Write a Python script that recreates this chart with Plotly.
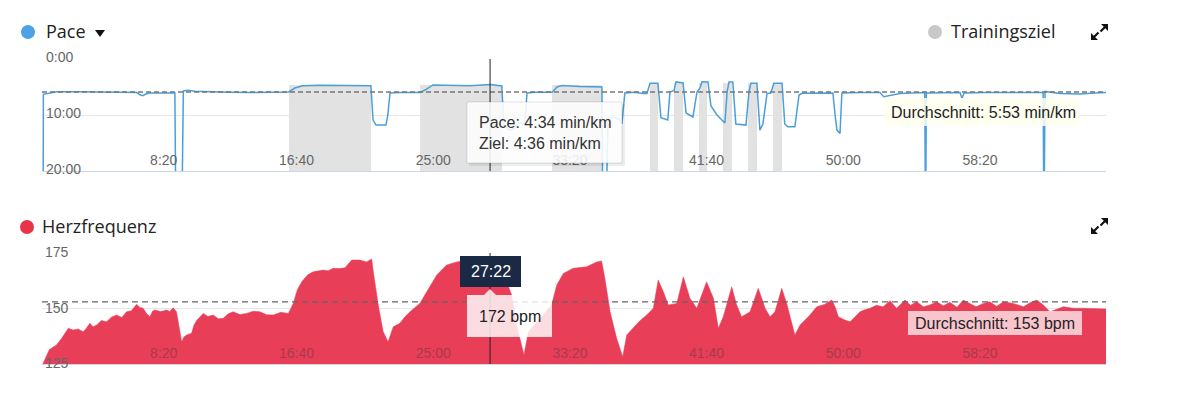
import plotly.graph_objects as go

# ---------------- data ----------------
tick_seconds = [500, 1000, 1500, 2000, 2500, 3000, 3500]
tick_labels = ["8:20", "16:40", "25:00", "33:20", "41:40", "50:00", "58:20"]
x_range_s = [3, 3895]

pace_ticks = [0, 10, 20]
pace_tick_labels = ["0:00", "10:00", "20:00"]
hr_ticks = [125, 150, 175]
hr_tick_labels = ["125", "150", "175"]

pace_time = [3, 7, 8, 32, 57, 142, 215, 288, 350, 361, 372, 383, 398, 453, 489,
             493, 514, 520, 537, 562, 617, 690, 764, 837, 906, 928, 957, 1019, 1129, 1206,
             1214, 1225, 1261, 1268, 1276, 1312, 1385, 1404, 1433, 1495, 1568, 1642, 1685,
             1692, 1714, 1733, 1751, 1769, 1777, 1806, 1869, 1887, 1905, 1971, 2044, 2051,
             2055, 2066, 2073, 2099, 2117, 2124, 2135, 2172, 2201, 2216, 2227, 2256,
             2267, 2292, 2300, 2315, 2322, 2348, 2359, 2384, 2399, 2410, 2417, 2439,
             2450, 2472, 2490, 2501, 2509, 2516, 2530, 2541, 2578, 2589, 2596, 2618,
             2629, 2640, 2655, 2669, 2680, 2710, 2720, 2731, 2757, 2772, 2783, 2849,
             2896, 2904, 2911, 2922, 2929, 2995, 3068, 3082, 3104, 3141, 3232, 3235,
             3238, 3325, 3361, 3368, 3376, 3452, 3544, 3665, 3668, 3672, 3727, 3800,
             3855, 3895]
pace_min = [30, 30, 6.3, 6.1, 5.84, 5.84, 5.89, 5.95, 6.0, 6.4, 6.55, 6.25, 6.07, 6.07, 6.07,
            30, 30, 5.71, 5.6, 5.77, 5.89, 5.95, 6.0, 5.95, 5.89, 5.18, 4.77, 4.7, 4.73, 4.77,
            10.9, 11.8, 11.8, 10.0, 6.07, 6.0, 6.0, 5.54, 4.64, 4.7, 4.77, 4.567, 4.82,
            11.8, 12.7, 12.3, 11.25, 11.8, 6.07, 5.95, 5.95, 5.0, 4.73, 4.9, 5.0, 5.0,
            30, 30, 10.5, 10.4, 10.9, 11.6, 6.07, 5.95, 6.16, 6.16, 4.34, 4.34,
            10.5, 10.9, 5.89, 5.63, 4.1, 4.29, 9.64, 10.36, 5.89, 5.18, 4.05, 4.1,
            8.4, 10.0, 10.9, 11.4, 5.89, 4.1, 4.1, 11.6, 11.8, 5.89, 4.34, 4.34,
            12.7, 11.6, 6.16, 6.07, 4.34, 4.34, 11.6, 12.1, 12.1, 6.43, 6.13, 6.02,
            6.07, 10.0, 12.7, 13.3, 6.07, 6.0, 6.0, 6.73, 6.52, 6.16, 6.0, 30,
            6.07, 5.98, 6.0, 7.0, 6.07, 5.98, 5.95, 6.0, 30, 5.8, 6.16, 6.25,
            6.07, 6.0]

zone_start = [906, 1385, 1869, 2227, 2316, 2406, 2495, 2586, 2677]
zone_end = [1206, 1685, 2051, 2256, 2348, 2436, 2527, 2618, 2710]
zone_pace = [4.6, 4.6, 4.6, 4.33, 4.33, 4.33, 4.33, 4.33, 4.33]

hr_time = [6, 30, 56, 75, 99, 117, 135, 154, 166, 178, 190, 203, 220, 239, 258, 276, 295, 312,
           330, 349, 361, 373, 386, 398, 407, 416, 437, 459, 470, 483, 495,
           514, 522, 532, 550, 559, 570, 581, 593, 610, 629, 648, 666, 684, 702, 727, 751, 776,
           800, 825, 849, 877, 904, 922, 937, 953, 975, 995,
           1032, 1050, 1068, 1090, 1111, 1136, 1166, 1190, 1209, 1215, 1233, 1251, 1269, 1288,
           1312, 1330, 1349,
           1385, 1410, 1447, 1483, 1520, 1556, 1642, 1678, 1721, 1739, 1766, 1782, 1824,
           1867, 1886, 1910, 1946, 1970, 1995, 2032, 2050, 2062, 2081, 2105, 2127, 2142, 2166,
           2190, 2215, 2239, 2257, 2276, 2294, 2325, 2349, 2373, 2398, 2434, 2459, 2477, 2495,
           2526, 2544, 2562, 2593, 2623, 2648, 2666, 2684, 2709, 2727, 2757, 2776, 2812,
           2837, 2865, 2892, 2905, 2916, 2940, 2959, 2975, 2995, 3012, 3032, 3055, 3080, 3105,
           3129, 3145, 3160, 3180,
           3203, 3227, 3251, 3276, 3300, 3324, 3350, 3373, 3397, 3420, 3446, 3470, 3495,
           3520, 3556, 3593, 3620, 3642, 3666, 3690, 3739, 3776, 3812, 3837, 3895]
hr_bpm = [125, 131.5, 133.6, 136.6, 141.1, 140.3, 140.8, 139.5, 141.2, 143.3, 141.8, 142.6,
          144.6, 144.0, 146.2, 147.1, 146.0, 148.5,
          149.0, 151.9, 150.5, 150.1, 147.6, 146.3, 148.8, 149.3, 148.6, 149.3, 148.7, 150.3, 148.5,
          135.0, 137.2, 138.1, 138.8, 142.6, 144.8, 146.3, 147.8, 146.4, 147.1, 145.4, 145.6,
          147.6, 148.5, 147.3, 147.8, 148.8,
          148.5, 147.2, 147.1, 148.3, 147.8, 152.3, 158.5, 162.0, 165.2, 166.5,
          167.3, 167.0, 168.1, 168.0, 168.3, 171.8, 171.8, 171.0, 172.3, 166.5, 151.6, 139.5,
          135.0, 141.8, 143.3, 146.2, 148.5,
          152.3, 157.5, 165.1, 169.6, 171.0, 171.8, 172.0, 169.6, 156.1, 142.6, 129.1, 139.5, 145.6,
          151.6, 160.6, 165.8, 168.1, 168.5, 168.8, 171.0, 171.4, 163.6, 148.5, 136.6, 128.3, 138.1,
          141.1, 144.5, 147.1, 150.1, 162.8, 157.5, 151.6, 152.3, 164.3, 154.6, 150.1, 162.0, 154.6,
          141.1, 146.3, 159.8, 151.6, 146.3, 148.5, 159.1, 150.1, 146.3, 148.5, 159.1, 152.3,
          138.1, 142.6, 147.1,
          150.8, 151.8, 153.8, 150.5, 146.3, 144.8, 144.0, 146.0, 148.5, 149.4, 150.1, 151.5,
          150.8, 153.5,
          150.1, 152.0, 153.8, 151.5,
          153.0, 150.8, 151.6, 153.0, 151.2, 152.8, 150.6, 153.8, 152.3, 150.8, 152.3, 153.0,
          151.0,
          153.0, 152.3, 150.8, 152.8, 153.8, 151.6, 148.5, 150.8, 150.1, 150.1, 150.1, 149.8]

avg_pace = 5 + 53 / 60
avg_hr = 153
cursor_t = 1642          # 27:22
cursor_pace = 4.567
cursor_goal = 4.6
cursor_hr = 172

# ---------------- helpers ----------------
W, H = 1200, 402


def px(x):
    return x / W


def py(y):
    return 1 - y / H


def mmss(v):
    m = int(v)
    s = int(round((v - m) * 60))
    return f"{m}:{s:02d}"


def sec_label(t):
    return f"{t // 60}:{t % 60:02d}"


XD = [px(42), px(1106)]
TXT = "Liberation Sans, Arial, sans-serif"
TITLE = "Open Sans, Noto Sans, sans-serif"
TICKFONT = dict(family=TXT, size=14, color="#666666")

BLUE = "#4a9fdb"
RED = "rgb(233,62,88)"

fig = go.Figure()

# Training target zones (bars from target pace down to the axis bottom)
fig.add_trace(go.Bar(
    x=[(a + b) / 2 for a, b in zip(zone_start, zone_end)],
    width=[b - a for a, b in zip(zone_start, zone_end)],
    base=zone_pace,
    y=[20 - p for p in zone_pace],
    marker=dict(color="#e2e2e2", line=dict(width=0)),
    xaxis="x", yaxis="y", hoverinfo="skip",
))

# Pace line
fig.add_trace(go.Scatter(
    x=pace_time, y=pace_min, mode="lines",
    line=dict(color=BLUE, width=1.5),
    xaxis="x", yaxis="y", hoverinfo="skip",
))

# Heart rate area
fig.add_trace(go.Scatter(
    x=hr_time, y=hr_bpm, mode="lines", fill="tozeroy",
    line=dict(color=RED, width=0.5), fillcolor=RED,
    xaxis="x2", yaxis="y2", hoverinfo="skip",
))

shapes = []
annotations = []

# average lines
shapes.append(dict(type="line", xref="x domain", yref="y", x0=0, x1=1, y0=avg_pace, y1=avg_pace,
                   line=dict(color="#777", width=1.5, dash="5px,3px")))
shapes.append(dict(type="line", xref="x2 domain", yref="y2", x0=0, x1=1, y0=avg_hr, y1=avg_hr,
                   line=dict(color="#666", width=1.2, dash="6px,4px")))

# crosshair
shapes.append(dict(type="line", xref="x", yref="y domain", x0=cursor_t, x1=cursor_t, y0=0, y1=1,
                   line=dict(color="#222", width=1)))
shapes.append(dict(type="line", xref="x2", yref="y2 domain", x0=cursor_t, x1=cursor_t, y0=0, y1=1,
                   line=dict(color="#222", width=1)))


def rect(x0, y0, x1, y1, fill, line=None):
    d = dict(type="rect", xref="paper", yref="paper", x0=px(x0), x1=px(x1), y0=py(y1), y1=py(y0),
             fillcolor=fill, line=dict(width=0))
    if line:
        d["line"] = line
    shapes.append(d)


def poly(pts, fill):
    path = "M " + " L ".join(f"{px(x):.5f},{py(y):.5f}" for x, y in pts) + " Z"
    shapes.append(dict(type="path", xref="paper", yref="paper", path=path,
                       fillcolor=fill, line=dict(width=0)))


def seg(x0, y0, x1, y1, w=2.2, color="#111"):
    shapes.append(dict(type="line", xref="paper", yref="paper", x0=px(x0), y0=py(y0),
                       x1=px(x1), y1=py(y1), line=dict(color=color, width=w)))


def dot(cx, cy, r, color):
    shapes.append(dict(type="circle", xref="paper", yref="paper", x0=px(cx - r), x1=px(cx + r),
                       y0=py(cy + r), y1=py(cy - r), fillcolor=color, line=dict(width=0)))


def expand_icon(cx, cy):
    poly([(cx + 2, cy - 8), (cx + 9, cy - 8), (cx + 9, cy - 1)], "#111")
    seg(cx + 6, cy - 5, cx + 1.5, cy - 0.5)
    poly([(cx - 8, cy + 1), (cx - 8, cy + 8), (cx - 1, cy + 8)], "#111")
    seg(cx - 5, cy + 5, cx - 0.5, cy + 0.5)


def text(x, y, s, size=16, color="#222", family=TXT, xanchor="left", **kw):
    annotations.append(dict(xref="paper", yref="paper", x=px(x), y=py(y), text=s, showarrow=False,
                            xanchor=xanchor, yanchor="middle",
                            font=dict(family=family, size=size, color=color), **kw))


# y tick labels drawn inside the plot (also at the edges, like the reference)
for v, lab in zip(pace_ticks, pace_tick_labels):
    annotations.append(dict(xref="paper", yref="y", x=px(44), y=v, text=lab, showarrow=False,
                            xanchor="left", yanchor="middle", yshift=2,
                            font=TICKFONT))
for v, lab in zip(hr_ticks, hr_tick_labels):
    annotations.append(dict(xref="paper", yref="y2", x=px(43), y=v, text=lab, showarrow=False,
                            xanchor="left", yanchor="middle", yshift=1,
                            font=TICKFONT))

# legend / headers
dot(28, 32, 7, "#4ba3e3")
text(44, 31, "Pace", size=18, family=TITLE)
poly([(95, 30), (105, 30), (100, 37)], "#111")
dot(935, 32, 7, "#c8c8c8")
text(949, 31, "Trainingsziel", size=18, family=TITLE)
expand_icon(1099, 32)

dot(27, 227, 7, "rgb(232,52,72)")
text(40, 226, "Herzfrequenz", size=18, family=TITLE)
expand_icon(1099, 226)

# average labels
rect(884, 98, 1080, 126, "rgba(255,255,240,0.85)")
text(889, 112, f"Durchschnitt: {mmss(avg_pace)} min/km")
rect(908, 311, 1082, 335, "rgba(255,255,255,0.7)")
text(995, 323, f"Durchschnitt: {avg_hr} bpm", xanchor="center")

# pace tooltip
rect(469, 104, 625, 166, "rgba(0,0,0,0.07)")
rect(467, 102, 622, 163, "rgba(255,255,255,0.88)", line=dict(color="rgba(0,0,0,0.12)", width=1))
text(477, 132.5, f"Pace: {mmss(cursor_pace)} min/km<br>Ziel: {mmss(cursor_goal)} min/km",
     color="#333", align="left")

# time flag + hr tooltip
rect(460, 256, 521, 287, "#1b2a44")
text(490.5, 271.5, sec_label(cursor_t), color="white", xanchor="center")
rect(467, 295, 552, 337, "rgba(255,255,255,0.82)")
poly([(484, 295), (490, 289), (496, 295)], "rgba(255,255,255,0.82)")
text(509.5, 316, f"{cursor_hr} bpm", xanchor="center")

fig.update_layout(
    width=W, height=H,
    margin=dict(l=0, r=0, t=0, b=0),
    paper_bgcolor="white", plot_bgcolor="white",
    showlegend=False, bargap=0, barmode="overlay",
    xaxis=dict(domain=XD, range=x_range_s, tickvals=tick_seconds, ticktext=tick_labels,
               ticklabelposition="inside left", showgrid=False, zeroline=False,
               showline=True, linecolor="#ccd6eb", linewidth=1, ticks="",
               tickfont=TICKFONT, anchor="y", fixedrange=True),
    yaxis=dict(domain=[py(171), py(59)], range=[20, 0], tickvals=pace_ticks,
               showticklabels=False,
               showgrid=True, gridcolor="#e6e6e6", zeroline=False, showline=False, ticks="",
               anchor="x", fixedrange=True),
    xaxis2=dict(domain=XD, range=x_range_s, tickvals=tick_seconds, ticktext=tick_labels,
                ticklabelposition="inside left", showgrid=False, zeroline=False,
                showline=True, linecolor="#ccd6eb", linewidth=1, ticks="",
                tickfont=dict(family=TXT, size=14, color="#a83a4d"), anchor="y2", fixedrange=True),
    yaxis2=dict(domain=[py(364), py(253)], range=[125, 175], tickvals=hr_ticks,
                showticklabels=False,
                showgrid=True, gridcolor="#e6e6e6", zeroline=False, showline=False, ticks="",
                anchor="x2", fixedrange=True),
    shapes=shapes,
    annotations=annotations,
)

fig.write_html("out.html", config={"displayModeBar": False},
               post_script="document.body.style.margin='0';document.body.style.padding='0';"
                           "document.body.style.overflow='hidden';")
